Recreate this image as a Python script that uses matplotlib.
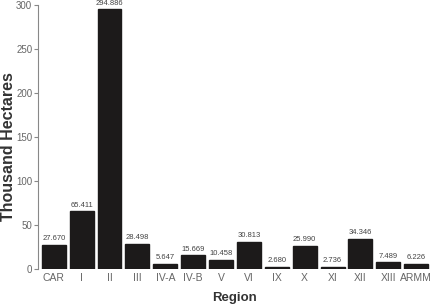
import numpy as np
import matplotlib.pyplot as plt

plt.rcParams["font.family"] = ["Liberation Sans", "DejaVu Sans"]

regions = ["CAR", "I", "II", "III", "IV-A", "IV-B", "V", "VI", "IX", "X", "XI", "XII", "XIII", "ARMM"]
hectares = [27.670, 65.411, 294.886, 28.498, 5.647, 15.669, 10.458, 30.813,
            2.680, 25.990, 2.736, 34.346, 7.489, 6.226]
value_labels = ["27.670", "65.411", "294.886", "28.498", "5.647", "15.669", "10.458", "30.813",
                "2.680", "25.990", "2.736", "34.346", "7.489", "6.226"]

fig = plt.figure(figsize=(4.4, 3.05), dpi=100)
ax = fig.add_axes([0.086, 0.118, 0.896, 0.866])

x = np.arange(len(regions))
bars = ax.bar(x, hectares, width=0.86, color="#1c1a1a", edgecolor="#1c1a1a")
for rect, lab in zip(bars, value_labels):
    ax.text(rect.get_x() + rect.get_width() / 2, rect.get_height() + 3, lab,
            ha="center", va="bottom", fontsize=5.5, color="#444444")

ax.set_xlim(-0.57, 13.57)
ax.set_ylim(0, 300)
ax.set_yticks([0, 50, 100, 150, 200, 250, 300])
ax.set_xticks(x)
ax.set_xticklabels(regions)

for s in ["top", "right", "bottom"]:
    ax.spines[s].set_visible(False)
ax.spines["left"].set_color("#888888")
ax.spines["left"].set_linewidth(0.8)
ax.tick_params(axis="y", colors="#888888", labelcolor="#666666", labelsize=7, length=3, width=0.8, pad=1)
ax.tick_params(axis="x", length=0, labelcolor="#666666", labelsize=7.5, pad=3)

ax.set_ylabel("Thousand Hectares", fontsize=11.5, fontweight="bold", color="#333333")
ax.yaxis.set_label_coords(-0.055, 0.465)
ax.set_xlabel("Region", fontsize=9.5, fontweight="bold", color="#333333", labelpad=6)

fig.savefig("out.png", dpi=100)
